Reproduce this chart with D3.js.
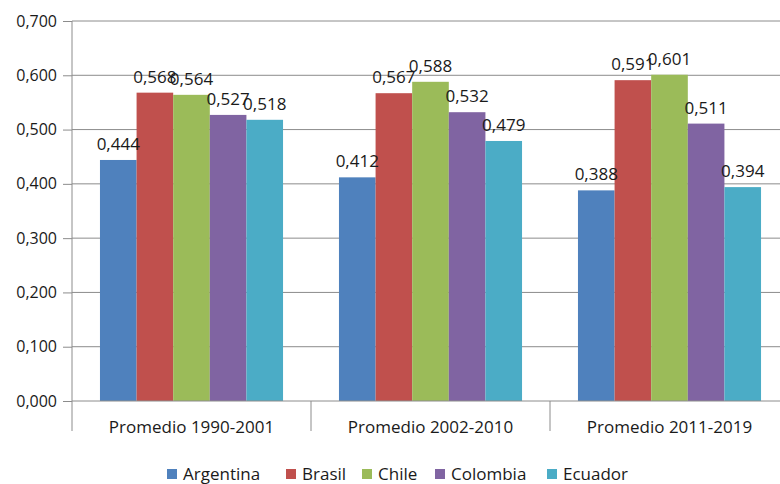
<!DOCTYPE html>
<html>
<head>
<meta charset="utf-8">
<script src="https://cdn.jsdelivr.net/npm/d3@7"></script>
<style>
  body { margin: 0; background: #fff; }
  text { font-family: "Open Sans", sans-serif; fill: #1a1a1a; }
</style>
</head>
<body>
<svg width="780" height="484"></svg>
<script>
var periods = ["Promedio 1990-2001", "Promedio 2002-2010", "Promedio 2011-2019"];
var countries = ["Argentina", "Brasil", "Chile", "Colombia", "Ecuador"];
var colors = ["#4F81BD", "#C0504D", "#9BBB59", "#8064A2", "#4BACC6"];
var argentina = [0.444, 0.412, 0.388];
var brasil = [0.568, 0.567, 0.591];
var chile = [0.564, 0.588, 0.601];
var colombia = [0.527, 0.532, 0.511];
var ecuador = [0.518, 0.479, 0.394];
var yTicks = [0, 0.1, 0.2, 0.3, 0.4, 0.5, 0.6, 0.7];

var series = [argentina, brasil, chile, colombia, ecuador];
var rows = [];
periods.forEach(function(p, i) {
  countries.forEach(function(c, j) {
    rows.push({period: p, country: c, value: series[j][i], color: colors[j]});
  });
});

var svg = d3.select("svg");
var plotLeft = 72, plotTop = 21, plotBottom = 401, plotRight = 789;

var loc = d3.formatLocale({decimal: ",", thousands: ".", grouping: [3], currency: ["", ""]});
var fmt = loc.format(".3f");

var x0 = d3.scaleBand().domain(periods).range([plotLeft, plotRight]).padding(0);
var bw = x0.bandwidth();
var x1 = d3.scaleBand().domain(countries).range([bw * 0.117, bw * 0.883]).padding(0);
var y = d3.scaleLinear().domain([0, 0.7]).range([plotBottom, plotTop]);

// gridlines
svg.append("g").selectAll("line")
  .data(yTicks.slice(1))
  .enter().append("line")
    .attr("x1", plotLeft).attr("x2", 780)
    .attr("y1", function(d) { return y(d); })
    .attr("y2", function(d) { return y(d); })
    .attr("stroke", "#8c8c8c").attr("stroke-width", 1);

// y axis
var yAxis = svg.append("g")
  .attr("transform", "translate(" + plotLeft + ",0)")
  .call(d3.axisLeft(y).tickValues(yTicks).tickFormat(fmt).tickSize(9).tickPadding(6));
yAxis.select(".domain").attr("stroke", "#8c8c8c").attr("d", "M0," + plotTop + "V" + (plotBottom + 30));
yAxis.selectAll(".tick line").attr("stroke", "#8c8c8c");
yAxis.selectAll(".tick text").style("font-size", "16px").style("font-family", "'Open Sans', sans-serif").attr("fill", "#1a1a1a");

// bars
svg.append("g").selectAll("rect")
  .data(rows)
  .enter().append("rect")
    .attr("x", function(d) { return x0(d.period) + x1(d.country); })
    .attr("width", x1.bandwidth())
    .attr("y", function(d) { return y(d.value); })
    .attr("height", function(d) { return y(0) - y(d.value); })
    .attr("fill", function(d) { return d.color; });

// data labels
svg.append("g").selectAll("text")
  .data(rows)
  .enter().append("text")
    .attr("x", function(d) { return x0(d.period) + x1(d.country) + x1.bandwidth() / 2; })
    .attr("y", function(d) { return y(d.value) - 10; })
    .attr("text-anchor", "middle")
    .style("font-size", "17px")
    .text(function(d) { return fmt(d.value); });

// x axis
svg.append("line")
  .attr("x1", plotLeft).attr("x2", 780).attr("y1", plotBottom).attr("y2", plotBottom)
  .attr("stroke", "#8c8c8c");
svg.append("g").selectAll("line")
  .data(periods.slice(1))
  .enter().append("line")
    .attr("x1", function(d) { return x0(d); })
    .attr("x2", function(d) { return x0(d); })
    .attr("y1", plotBottom).attr("y2", plotBottom + 30)
    .attr("stroke", "#8c8c8c");
svg.append("g").selectAll("text")
  .data(periods)
  .enter().append("text")
    .attr("x", function(d) { return x0(d) + bw / 2; })
    .attr("y", plotBottom + 32)
    .attr("text-anchor", "middle")
    .style("font-size", "17px")
    .text(function(d) { return d; });

// legend
var legendX = [167, 286, 362, 435, 547];
var legend = svg.append("g").selectAll("g")
  .data(countries)
  .enter().append("g")
    .attr("transform", function(d, i) { return "translate(" + legendX[i] + ",474)"; });
legend.append("rect")
  .attr("x", 0).attr("y", -5).attr("width", 10).attr("height", 10)
  .attr("fill", function(d, i) { return colors[i]; });
legend.append("text")
  .attr("x", 16).attr("y", 6)
  .style("font-size", "17px")
  .text(function(d) { return d; });
</script>
</body>
</html>
